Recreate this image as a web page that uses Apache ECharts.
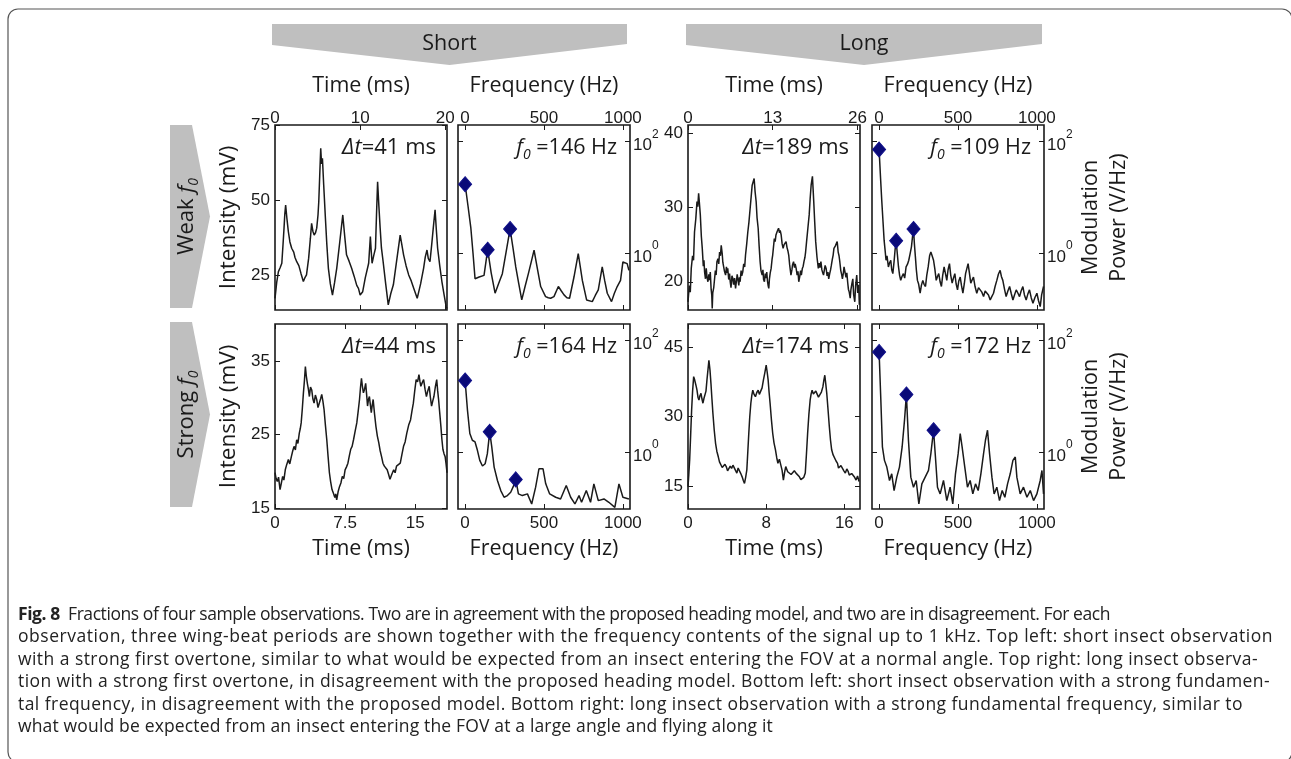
<!DOCTYPE html>
<html>
<head>
<meta charset="utf-8">
<script src="https://cdn.jsdelivr.net/npm/echarts@6/dist/echarts.min.js"></script>
<style>
    html, body { margin: 0; padding: 0; background: #fff; }
    #main { position: absolute; left: 0; top: 0; width: 1291px; height: 759px; }
    #cap { position: absolute; left: 18px; top: 602px; font-family: "Open Sans", sans-serif; font-size: 17.5px; line-height: 22.4px; color: #222; white-space: nowrap; }
    #cap div span { display: inline-block; }
    #cap b { font-weight: 700; }
</style>
</head>
<body>
<div id="main"></div>
<div id="cap">
    <div><span><b>Fig. 8</b>&nbsp; Fractions of four sample observations. Two are in agreement with the proposed heading model, and two are in disagreement. For each</span></div>
    <div><span>observation, three wing-beat periods are shown together with the frequency contents of the signal up to 1 kHz. Top left: short insect observation</span></div>
    <div><span>with a strong first overtone, similar to what would be expected from an insect entering the FOV at a normal angle. Top right: long insect observa-</span></div>
    <div><span>tion with a strong first overtone, in disagreement with the proposed heading model. Bottom left: short insect observation with a strong fundamen-</span></div>
    <div><span>tal frequency, in disagreement with the proposed model. Bottom right: long insect observation with a strong fundamental frequency, similar to</span></div>
    <div><span>what would be expected from an insect entering the FOV at a large angle and flying along it</span></div>
</div>
<script>
// 数据：时间信号 [ms, mV]，频谱 [Hz, log10 功率]
var shortWeakTime = [[0,17.2],[0.2,22.5],[0.4,26.1],[0.6,27.4],[0.8,28.9],[0.95,35.5],[1.06,40.6],[1.15,45.2],[1.25,48.3],[1.4,43.8],[1.57,39.4],[1.75,36.0],[1.96,33.9],[2.2,32.6],[2.35,30.8],[2.55,29.4],[2.8,28.1],[3.05,25.5],[3.33,22.8],[3.5,24.0],[3.7,25.0],[3.95,30.5],[4.15,37.0],[4.3,42.2],[4.45,39.6],[4.6,38.3],[4.75,39.0],[4.9,40.6],[5.05,45.0],[5.14,49.4],[5.25,58.0],[5.37,67.2],[5.47,62.0],[5.57,63.9],[5.72,55.0],[5.9,45.0],[6.08,35.5],[6.27,27.2],[6.5,22.0],[6.75,18.3],[7.0,22.5],[7.25,27.2],[7.6,35.8],[7.96,45.0],[8.2,37.5],[8.4,31.7],[8.7,29.6],[9.0,27.2],[9.3,24.5],[9.6,21.5],[9.8,20.5],[10.0,18.3],[10.3,19.4],[10.6,24.0],[11.0,28.9],[11.2,37.8],[11.3,33.0],[11.4,28.9],[11.6,31.5],[11.8,33.9],[11.92,45.0],[12.05,56.1],[12.2,48.0],[12.35,40.6],[12.5,34.0],[12.7,29.4],[13.0,22.0],[13.3,15.0],[13.6,18.8],[13.9,21.7],[14.3,30.0],[14.7,38.3],[14.9,35.0],[15.1,31.7],[15.4,28.0],[15.7,25.0],[16.0,23.0],[16.3,20.5],[16.7,17.2],[17.1,22.0],[17.45,27.2],[17.65,31.0],[17.85,33.3],[18.0,30.5],[18.2,29.4],[18.4,35.0],[18.6,41.0],[18.8,46.7],[18.95,40.0],[19.1,33.9],[19.35,28.0],[19.6,22.8],[19.85,18.5],[20.1,14.4],[20.2,13.8]];
var shortWeakPow = [[0,1.23],[18,0.85],[36,0.46],[50,0.0],[63,-0.46],[89,-0.43],[120,-0.40],[143,0.06],[165,-0.35],[190,-0.72],[212,-0.55],[236,-0.37],[260,0.02],[285,0.43],[303,0.10],[321,-0.25],[340,-0.55],[359,-0.84],[380,-0.60],[401,-0.37],[420,-0.15],[437,0.05],[458,-0.28],[479,-0.60],[510,-0.78],[527,-0.80],[542,-0.81],[563,-0.78],[591,-0.60],[610,-0.68],[627,-0.75],[645,-0.80],[662,-0.81],[690,-0.43],[717,-0.01],[730,-0.25],[743,-0.49],[770,-0.84],[806,-0.87],[825,-0.76],[844,-0.66],[869,-0.25],[885,-0.50],[901,-0.72],[928,-0.87],[946,-0.72],[964,-0.60],[985,-0.49],[1000,-0.16],[1027,-0.19],[1038,-0.31]];
var shortWeakPeaks = [[0,1.23],[143,0.06],[285,0.43]];

var longWeakTime = [[0,17.3],[0.2,19.5],[0.35,18.6],[0.5,21.8],[0.7,23.5],[0.85,22.9],[1.0,26.7],[1.2,28.5],[1.38,30.8],[1.5,30.1],[1.63,31.9],[1.75,30.6],[1.89,29.0],[2.05,26.1],[2.19,24.5],[2.35,22.1],[2.45,22.9],[2.55,21.3],[2.68,20.4],[2.8,21.8],[2.92,20.6],[3.06,20.0],[3.2,21.0],[3.3,20.2],[3.42,21.3],[3.55,19.0],[3.65,18.2],[3.72,16.4],[3.8,18.5],[3.95,19.2],[4.08,20.4],[4.2,21.5],[4.32,20.9],[4.44,22.7],[4.6,23.1],[4.72,22.4],[4.85,24.0],[4.98,23.5],[5.1,24.9],[5.25,23.8],[5.35,22.6],[5.46,22.7],[5.6,21.4],[5.77,20.9],[5.9,22.0],[6.0,21.2],[6.1,21.8],[6.25,20.3],[6.38,21.1],[6.48,20.0],[6.6,19.2],[6.75,20.8],[6.89,20.4],[7.0,19.6],[7.15,20.5],[7.3,19.1],[7.45,20.2],[7.55,21.0],[7.65,20.9],[7.8,19.5],[7.9,20.6],[8.0,20.0],[8.15,21.5],[8.25,20.8],[8.4,21.3],[8.55,22.4],[8.7,22.0],[8.83,23.6],[9.0,25.0],[9.18,26.7],[9.35,28.0],[9.54,29.9],[9.7,31.5],[9.85,33.0],[10.0,33.2],[10.15,33.9],[10.3,32.1],[10.46,30.8],[10.6,28.6],[10.77,27.2],[10.92,24.8],[11.07,22.7],[11.2,21.5],[11.38,20.9],[11.5,21.6],[11.6,20.3],[11.73,20.0],[11.85,21.1],[11.97,20.5],[12.09,21.3],[12.2,20.1],[12.3,19.5],[12.4,19.1],[12.5,20.4],[12.62,21.2],[12.76,21.8],[12.9,23.0],[13.0,23.6],[13.1,24.5],[13.25,25.8],[13.38,25.4],[13.5,26.3],[13.7,26.8],[13.9,27.2],[14.05,26.6],[14.15,26.9],[14.3,26.3],[14.45,25.1],[14.6,24.5],[14.75,25.0],[14.9,24.8],[15.05,25.4],[15.2,24.6],[15.35,24.1],[15.46,23.6],[15.6,22.3],[15.8,20.9],[15.95,21.6],[16.05,22.3],[16.2,22.7],[16.35,21.9],[16.45,22.4],[16.6,21.8],[16.75,20.9],[16.88,21.4],[17.0,20.0],[17.15,20.7],[17.28,21.5],[17.4,20.9],[17.55,21.8],[17.68,22.1],[17.8,22.7],[17.95,23.3],[18.05,24.0],[18.2,25.4],[18.4,27.2],[18.6,29.0],[18.75,31.2],[18.9,33.0],[19.0,33.6],[19.1,34.2],[19.2,32.5],[19.3,30.8],[19.45,28.0],[19.6,25.4],[19.8,23.3],[20.0,21.8],[20.15,22.5],[20.25,21.9],[20.4,22.7],[20.55,21.6],[20.68,21.2],[20.8,20.9],[20.95,21.7],[21.05,22.2],[21.2,21.8],[21.35,20.8],[21.48,21.3],[21.6,20.4],[21.75,21.1],[21.88,21.6],[22.0,22.2],[22.15,23.0],[22.28,23.6],[22.4,24.5],[22.6,24.8],[22.75,24.6],[22.9,25.4],[23.05,24.0],[23.18,23.5],[23.3,22.7],[23.45,21.5],[23.58,21.0],[23.7,20.4],[23.85,21.2],[23.95,22.0],[24.1,21.8],[24.25,20.6],[24.38,21.2],[24.5,20.0],[24.62,19.0],[24.75,18.6],[24.9,17.8],[25.0,18.9],[25.15,19.7],[25.3,20.4],[25.42,18.3],[25.6,17.3],[25.72,19.4],[25.9,20.9],[26.05,18.5],[26.2,19.6],[26.3,16.9]];
var longWeakPow = [[0,1.85],[9,1.35],[17,0.93],[25,0.55],[32,0.22],[38,0.05],[44,-0.13],[50,-0.05],[59,-0.25],[66,-0.18],[74,-0.13],[80,-0.30],[87,-0.37],[95,-0.15],[101,0.05],[108,0.22],[115,0.0],[123,-0.25],[130,-0.40],[137,-0.49],[145,-0.42],[154,-0.37],[162,-0.45],[171,-0.25],[180,-0.20],[188,-0.13],[196,-0.02],[205,0.11],[212,0.30],[218,0.43],[224,0.15],[230,-0.07],[236,-0.30],[243,-0.49],[250,-0.55],[260,-0.72],[268,-0.58],[277,-0.49],[285,-0.56],[294,-0.60],[302,-0.40],[311,-0.25],[320,-0.05],[328,0.02],[336,-0.05],[345,-0.13],[353,-0.28],[362,-0.49],[370,-0.42],[378,-0.37],[387,-0.52],[395,-0.60],[403,-0.40],[412,-0.25],[420,-0.36],[429,-0.49],[437,-0.30],[446,-0.19],[454,-0.40],[463,-0.54],[471,-0.45],[480,-0.37],[488,-0.55],[497,-0.66],[505,-0.50],[514,-0.43],[522,-0.58],[531,-0.72],[540,-0.55],[548,-0.37],[556,-0.28],[564,-0.19],[572,-0.35],[581,-0.54],[590,-0.48],[598,-0.43],[608,-0.60],[619,-0.72],[630,-0.62],[641,-0.60],[651,-0.70],[662,-0.78],[672,-0.68],[683,-0.66],[693,-0.75],[704,-0.84],[714,-0.78],[725,-0.72],[735,-0.60],[746,-0.49],[756,-0.38],[767,-0.31],[775,-0.42],[784,-0.49],[795,-0.65],[805,-0.78],[816,-0.68],[827,-0.60],[837,-0.72],[848,-0.84],[858,-0.75],[869,-0.66],[880,-0.72],[890,-0.78],[900,-0.68],[911,-0.60],[921,-0.75],[932,-0.84],[942,-0.74],[953,-0.66],[964,-0.80],[975,-0.90],[987,-0.80],[1000,-0.72],[1010,-0.85],[1021,-0.96],[1030,-0.75],[1042,-0.60]];
var longWeakPeaks = [[0,1.85],[108,0.22],[218,0.43]];

var shortStrongTime = [[0,19.8],[0.12,19.0],[0.25,18.6],[0.38,19.2],[0.54,17.5],[0.68,18.4],[0.82,19.3],[0.95,18.8],[1.1,20.2],[1.25,20.9],[1.43,21.6],[1.58,21.0],[1.75,22.0],[1.9,22.8],[2.04,23.4],[2.18,22.9],[2.32,24.3],[2.45,23.8],[2.6,25.2],[2.7,25.8],[2.8,26.6],[2.92,28.5],[3.04,30.7],[3.15,32.4],[3.25,34.3],[3.35,33.0],[3.46,32.0],[3.57,31.2],[3.68,30.2],[3.8,31.5],[3.93,31.1],[4.05,29.9],[4.18,29.3],[4.32,30.4],[4.46,29.8],[4.6,28.7],[4.75,28.9],[4.88,29.9],[5.0,30.5],[5.12,29.6],[5.25,28.4],[5.4,26.2],[5.54,24.3],[5.68,22.0],[5.82,19.8],[5.95,18.6],[6.1,17.5],[6.25,17.0],[6.4,16.4],[6.5,16.9],[6.6,16.1],[6.75,17.2],[6.9,17.9],[7.05,18.4],[7.2,19.3],[7.35,19.0],[7.5,20.2],[7.65,20.6],[7.8,21.1],[7.95,22.1],[8.1,23.0],[8.25,23.4],[8.4,24.3],[8.58,25.5],[8.75,26.6],[8.9,28.2],[9.04,29.8],[9.15,31.5],[9.25,32.7],[9.35,31.6],[9.46,30.7],[9.58,31.2],[9.7,32.0],[9.8,30.5],[9.9,28.9],[10.0,29.8],[10.1,30.2],[10.2,29.1],[10.3,28.0],[10.4,29.0],[10.5,29.8],[10.65,27.8],[10.8,26.1],[10.95,24.8],[11.1,23.9],[11.25,22.8],[11.4,22.0],[11.55,21.1],[11.7,20.7],[11.85,20.9],[12.0,20.2],[12.15,19.6],[12.3,18.9],[12.5,19.6],[12.7,20.2],[12.85,19.8],[13.0,20.7],[13.2,20.5],[13.4,21.1],[13.58,22.3],[13.75,23.4],[13.92,24.0],[14.1,25.2],[14.3,26.3],[14.5,27.0],[14.65,28.2],[14.8,29.3],[14.95,31.0],[15.1,32.5],[15.25,32.2],[15.4,33.2],[15.5,32.3],[15.6,31.6],[15.75,32.1],[15.9,32.5],[16.05,31.2],[16.2,30.2],[16.35,31.0],[16.5,31.6],[16.62,30.1],[16.75,28.9],[16.88,29.6],[17.0,30.2],[17.15,31.5],[17.3,32.5],[17.4,31.0],[17.5,29.8],[17.62,28.0],[17.75,26.1],[17.85,24.4],[17.96,23.0],[18.08,22.4],[18.2,22.0],[18.3,21.0],[18.4,19.8]];
var shortStrongPow = [[0,1.28],[15,0.75],[30,0.33],[46,0.21],[63,0.18],[78,0.03],[93,-0.15],[110,-0.25],[127,-0.21],[141,-0.03],[156,0.36],[169,0.09],[184,-0.27],[205,-0.51],[226,-0.69],[247,-0.81],[268,-0.78],[289,-0.72],[305,-0.62],[321,-0.49],[338,-0.75],[363,-0.78],[395,-0.75],[422,-0.93],[447,-0.63],[468,-0.30],[494,-0.30],[511,-0.57],[536,-0.75],[574,-0.81],[605,-0.84],[641,-0.60],[669,-0.81],[696,-0.93],[722,-0.78],[738,-0.90],[768,-0.69],[795,-0.90],[816,-0.57],[844,-0.87],[880,-0.84],[911,-0.90],[949,-0.99],[975,-0.57],[1000,-0.81],[1038,-0.84]];
var shortStrongPeaks = [[0,1.28],[156,0.36],[321,-0.49]];

var longStrongTime = [[0,15],[0.08,17.5],[0.17,20.7],[0.27,26.0],[0.37,31.4],[0.47,35.5],[0.58,38.6],[0.67,38.0],[0.75,37.9],[0.84,36.5],[0.92,35.7],[1.02,34.2],[1.12,33.6],[1.22,34.5],[1.33,35.0],[1.43,33.8],[1.53,32.9],[1.63,33.9],[1.73,33.6],[1.84,35.5],[1.94,37.9],[2.04,40.0],[2.14,42.1],[2.25,40.0],[2.35,37.1],[2.45,33.8],[2.55,30.7],[2.68,27.2],[2.82,24.3],[2.95,22.6],[3.1,21.4],[3.22,20.3],[3.37,20.0],[3.5,19.1],[3.64,18.9],[3.78,19.8],[3.91,19.3],[4.05,18.4],[4.18,18.2],[4.32,19.4],[4.46,18.9],[4.6,19.6],[4.73,20.0],[4.86,18.5],[5.0,17.9],[5.13,19.0],[5.27,18.6],[5.4,17.8],[5.54,17.1],[5.66,16.3],[5.78,15.7],[5.9,17.0],[6.02,18.6],[6.12,22.5],[6.22,26.4],[6.32,30.0],[6.43,32.9],[6.53,34.6],[6.63,35.7],[6.76,34.8],[6.9,34.3],[7.04,35.2],[7.18,35.7],[7.3,34.8],[7.45,35.0],[7.58,36.2],[7.72,37.9],[7.86,39.4],[8.0,41.1],[8.1,39.6],[8.2,37.9],[8.3,35.2],[8.4,32.9],[8.53,29.5],[8.67,26.4],[8.8,24.4],[8.95,22.9],[9.08,21.2],[9.2,20.0],[9.35,20.9],[9.5,20.7],[9.63,18.5],[9.76,16.4],[9.88,18.0],[10.0,19.3],[10.2,18.2],[10.4,18.6],[10.55,17.6],[10.7,17.5],[10.88,18.4],[11.05,17.9],[11.22,18.3],[11.4,17.1],[11.55,16.5],[11.7,16.1],[11.85,17.0],[12.0,17.9],[12.12,22.0],[12.24,26.4],[12.37,30.5],[12.5,33.6],[12.6,34.9],[12.7,35.7],[12.83,34.9],[12.96,34.6],[13.08,35.5],[13.2,35.4],[13.35,34.2],[13.5,34.6],[13.65,35.3],[13.8,36.4],[13.9,37.8],[14.0,38.9],[14.1,37.0],[14.2,35.0],[14.33,31.5],[14.46,27.9],[14.58,25.0],[14.7,22.9],[14.85,21.8],[15.0,21.4],[15.15,20.5],[15.3,20.0],[15.4,19.0],[15.5,18.6],[15.65,19.5],[15.8,19.3],[15.95,18.4],[16.1,17.9],[16.25,18.8],[16.4,18.2],[16.5,17.5],[16.6,17.1],[16.75,17.8],[16.9,17.9],[17.05,17.0],[17.2,16.4],[17.35,17.3],[17.5,16.1]];
var longStrongPow = [[0,1.79],[11,0.93],[21,0.09],[34,-0.15],[49,-0.27],[66,-0.51],[80,-0.39],[95,-0.69],[112,-0.45],[129,-0.27],[146,0.09],[161,0.57],[173,1.03],[186,0.21],[201,-0.45],[218,-0.63],[235,-0.51],[252,-0.93],[271,-0.57],[292,-0.45],[313,-0.33],[328,-0.03],[345,0.39],[357,-0.09],[370,-0.63],[387,-0.75],[408,-0.51],[429,-0.87],[450,-0.63],[467,-0.93],[484,-0.39],[501,-0.03],[514,0.33],[526,0.09],[543,-0.27],[560,-0.63],[577,-0.51],[594,-0.75],[611,-0.57],[628,-0.69],[645,-0.39],[662,-0.03],[674,0.21],[687,0.39],[700,-0.03],[715,-0.45],[729,-0.75],[746,-0.63],[763,-0.87],[780,-0.69],[797,-0.81],[814,-0.57],[831,-0.39],[848,-0.15],[863,-0.09],[873,-0.45],[894,-0.75],[915,-0.63],[937,-0.81],[958,-0.69],[979,-0.87],[1000,-0.75],[1021,-0.51],[1032,-0.33],[1042,-0.75]];
var longStrongPeaks = [[0,1.79],[173,1.03],[345,0.39]];

var freqTicks = [0, 500, 1000];
var powTicks = [0, 2];
var insetTexts = ['41', '146', '189', '109', '44', '164', '174', '172'];

// 图注每行的右端位置
(function() {
    var ends = [1110, 1273, 1258, 1270, 1243, 773];
    var spans = document.querySelectorAll('#cap div span');
    spans.forEach(function(s, k) {
        var w = s.getBoundingClientRect().width;
        var n = s.textContent.length;
        s.style.letterSpacing = ((ends[k] - 18 - w) / n).toFixed(3) + 'px';
    });
})();

(function() {
    var myChart = echarts.init(document.getElementById('main'));
    var ink = '#1a1a1a';
    var numFont = 'Liberation Sans';
    var txtFont = 'Open Sans';
    var W = 172, H = 185;
    var lefts = [275, 458, 688, 872];
    var tops = [125, 324];

    // 每个子图的坐标范围
    var panels = [
        { line: shortWeakTime, xr: [0, 20.2], xt: [0, 10, 20], yr: [13.3, 75], yt: [25, 50, 75] },
        { line: shortWeakPow, peaks: shortWeakPeaks },
        { line: longWeakTime, xr: [0, 26.4], xt: [0, 13, 26], yr: [16.2, 41.1], yt: [20, 30, 40] },
        { line: longWeakPow, peaks: longWeakPeaks },
        { line: shortStrongTime, xr: [0, 18.4], xt: [0, 7.5, 15], yr: [14.85, 40.1], yt: [15, 25, 35] },
        { line: shortStrongPow, peaks: shortStrongPeaks },
        { line: longStrongTime, xr: [0, 17.6], xt: [0, 8, 16], yr: [10.2, 49.9], yt: [15, 30, 45] },
        { line: longStrongPow, peaks: longStrongPeaks }
    ];

    var grid = [], xAxis = [], yAxis = [], series = [], graphic = [];
    var tick = function(vals) {
        return { show: true, inside: true, length: 5, customValues: vals, lineStyle: { color: ink, width: 1 } };
    };
    var noLine = { show: false, onZero: false };
    var plain = function(v) { return String(v); };

    panels.forEach(function(p, i) {
        var row = Math.floor(i / 4), col = i % 4;
        var isFreq = col % 2 === 1;
        var xr = isFreq ? [-45, 1045] : p.xr;
        var xt = isFreq ? freqTicks : p.xt;
        var yr = isFreq ? [-1.02, 2.29] : p.yr;
        var yt = isFreq ? powTicks : p.yt;
        grid.push({
            left: lefts[col], top: tops[row], width: W, height: H,
            show: true, borderColor: ink, borderWidth: 1.6, backgroundColor: '#fff'
        });
        // 主x轴
        xAxis.push({
            type: 'value', gridIndex: i, min: xr[0], max: xr[1],
            position: row === 0 ? 'top' : 'bottom',
            axisLine: noLine, splitLine: { show: false },
            axisTick: tick(xt),
            axisLabel: {
                customValues: xt, formatter: plain, color: ink, fontFamily: numFont, fontSize: 17,
                margin: row === 0 ? -2 : 6
            },
            name: isFreq ? 'Frequency (Hz)' : 'Time (ms)',
            nameLocation: 'middle', nameGap: row === 0 ? 28 : 29,
            nameTextStyle: { color: ink, fontFamily: txtFont, fontSize: 21.5 }
        });
        // 对侧x轴（只有刻度）
        xAxis.push({
            type: 'value', gridIndex: i, min: xr[0], max: xr[1],
            position: row === 0 ? 'bottom' : 'top',
            axisLine: noLine, splitLine: { show: false },
            axisTick: tick(xt), axisLabel: { show: false, customValues: xt }
        });
        var yMain = {
            type: 'value', gridIndex: i, min: yr[0], max: yr[1],
            position: isFreq ? 'right' : 'left',
            axisLine: noLine, splitLine: { show: false },
            axisTick: tick(yt),
            axisLabel: {
                customValues: yt, formatter: plain, color: ink, fontFamily: numFont, fontSize: 17, margin: isFreq ? 3 : 5
            }
        };
        if (isFreq) {
            yMain.axisLabel.formatter = function(v) { return '{b|10}{s|' + Math.round(v) + '}'; };
            yMain.axisLabel.rich = {
                b: { fontFamily: numFont, fontSize: 17, color: ink, lineHeight: 26, verticalAlign: 'bottom' },
                s: { fontFamily: numFont, fontSize: 12, color: ink, lineHeight: 26, verticalAlign: 'top' }
            };
        }
        if (col === 0) {
            yMain.name = 'Intensity (mV)';
            yMain.nameLocation = 'middle';
            yMain.nameGap = 35;
            yMain.nameTextStyle = { color: ink, fontFamily: txtFont, fontSize: 22.5 };
        }
        if (col === 3) {
            yMain.name = 'Modulation\nPower (V/Hz)';
            yMain.nameLocation = 'middle';
            yMain.nameGap = 22;
            yMain.nameTextStyle = { color: ink, fontFamily: txtFont, fontSize: 21.5, lineHeight: 28 };
        }
        yAxis.push(yMain);
        yAxis.push({
            type: 'value', gridIndex: i, min: yr[0], max: yr[1],
            position: isFreq ? 'left' : 'right',
            axisLine: noLine, splitLine: { show: false },
            axisTick: tick(yt), axisLabel: { show: false, customValues: yt }
        });

        series.push({
            type: 'line', xAxisIndex: 2 * i, yAxisIndex: 2 * i, data: p.line,
            showSymbol: false, symbol: 'none', clip: true, silent: true,
            lineStyle: { color: ink, width: 1.5 }
        });
        if (p.peaks) {
            series.push({
                type: 'scatter', xAxisIndex: 2 * i, yAxisIndex: 2 * i, data: p.peaks,
                symbol: 'diamond', symbolSize: [13, 15], silent: true, z: 5,
                itemStyle: { color: '#0a0a78', opacity: 1, borderColor: '#10108a', borderWidth: 1 }
            });
        }

        // 面板内注释文字
        var tx = lefts[col] + W - (isFreq ? 13 : 11);
        var ty = tops[row] + 23;
        graphic.push({
            type: 'text', x: tx, y: ty, z: 10,
            style: isFreq ? {
                text: '{i|f}{s|0}{n| =' + insetTexts[i] + ' Hz}',
                align: 'right', verticalAlign: 'middle',
                rich: {
                    i: { fontFamily: txtFont, fontStyle: 'italic', fontSize: 21.5, fill: ink, lineHeight: 28, verticalAlign: 'middle' },
                    s: { fontFamily: txtFont, fontStyle: 'italic', fontSize: 14, fill: ink, lineHeight: 28, verticalAlign: 'bottom' },
                    n: { fontFamily: txtFont, fontSize: 21.5, fill: ink, lineHeight: 28, verticalAlign: 'middle' }
                }
            } : {
                text: '{i|Δt}{n|=' + insetTexts[i] + ' ms}',
                align: 'right', verticalAlign: 'middle',
                rich: {
                    i: { fontFamily: txtFont, fontStyle: 'italic', fontSize: 22, fill: ink },
                    n: { fontFamily: txtFont, fontSize: 22, fill: ink }
                }
            }
        });
    });

    var gray = '#bfbfbf';
    // 顶部 Short / Long 箭头
    [[272, 627, 'Short'], [686, 1042, 'Long']].forEach(function(b) {
        var mid = (b[0] + b[1]) / 2;
        graphic.push({
            type: 'polygon', z: 1,
            shape: { points: [[b[0], 24], [b[1], 24], [b[1], 44], [mid, 65], [b[0], 45]] },
            style: { fill: gray }
        });
        graphic.push({
            type: 'text', x: mid, y: 44, z: 2,
            style: { text: b[2], align: 'center', verticalAlign: 'middle', fontFamily: txtFont, fontSize: 21.5, fill: ink }
        });
    });
    // 左侧 Weak / Strong 箭头
    [[125, 308, 'Weak '], [322, 507, 'Strong ']].forEach(function(b) {
        var mid = (b[0] + b[1]) / 2;
        graphic.push({
            type: 'polygon', z: 1,
            shape: { points: [[170, b[0]], [192, b[0]], [210, mid], [192, b[1]], [170, b[1]]] },
            style: { fill: gray }
        });
        graphic.push({
            type: 'text', x: 187, y: mid, z: 2, rotation: Math.PI / 2,
            style: {
                text: '{n|' + b[2] + '}{i|f}{s|0}', align: 'center', verticalAlign: 'middle',
                rich: {
                    n: { fontFamily: txtFont, fontSize: 22, fill: ink, lineHeight: 28, verticalAlign: 'middle' },
                    i: { fontFamily: txtFont, fontStyle: 'italic', fontSize: 22, fill: ink, lineHeight: 28, verticalAlign: 'middle' },
                    s: { fontFamily: txtFont, fontStyle: 'italic', fontSize: 14, fill: ink, lineHeight: 28, verticalAlign: 'bottom' }
                }
            }
        });
    });
    // 外框
    graphic.push({
        type: 'rect', z: 0, silent: true,
        shape: { x: 8, y: 9, width: 1284, height: 753, r: 10 },
        style: { fill: 'none', stroke: '#555', lineWidth: 1.2 }
    });

    var option = {
        animation: false,
        grid: grid,
        xAxis: xAxis,
        yAxis: yAxis,
        series: series,
        graphic: graphic
    };
    myChart.setOption(option);
    window.addEventListener('resize', function() {
        myChart.resize();
    });
})();
</script>
</body>
</html>
